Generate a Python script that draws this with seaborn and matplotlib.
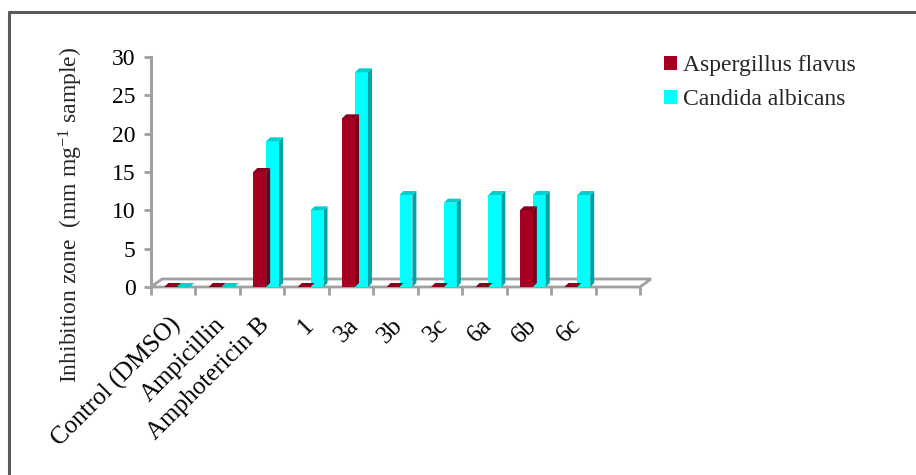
import matplotlib
matplotlib.use("Agg")
import numpy as np
import pandas as pd
import matplotlib.pyplot as plt
import matplotlib.transforms as mtransforms
from matplotlib.patches import Polygon, Patch
from matplotlib.lines import Line2D
import seaborn as sns

# Inhibition zone of the tested compounds against two fungal strains
compounds = ["Control (DMSO)", "Ampicillin", "Amphotericin B", "1", "3a",
             "3b", "3c", "6a", "6b", "6c"]
aspergillus = [0, 0, 15, 0, 22, 0, 0, 0, 10, 0]
candida = [0, 0, 19, 10, 28, 12, 11, 12, 12, 12]
series_names = ["Aspergillus flavus", "Candida albicans"]
yticks = [0, 5, 10, 15, 20, 25, 30]
n_slots = 11  # one trailing empty category slot on the floor

front_colors = {"Aspergillus flavus": "#A50021", "Candida albicans": "#00FFFF"}
top_colors = {"Aspergillus flavus": "#8A001B", "Candida albicans": "#00CFCF"}
side_colors = {"Aspergillus flavus": "#76001A", "Candida albicans": "#00A3A3"}
axis_gray = "#A0A0A0"

df = pd.DataFrame({
    "compound": compounds * 2,
    "organism": [series_names[0]] * len(compounds) + [series_names[1]] * len(compounds),
    "zone": aspergillus + candida,
})

sns.set_theme(style="white")
plt.rcParams["font.family"] = ["Liberation Serif", "DejaVu Serif"]
plt.rcParams["mathtext.fontset"] = "custom"
plt.rcParams["mathtext.rm"] = "Liberation Serif"
plt.rcParams["mathtext.it"] = "Liberation Serif:italic"

W, H = 916, 475
fig = plt.figure(figsize=(W / 100, H / 100), dpi=100)
fig.patch.set_facecolor("white")
ax = fig.add_axes([151 / W, 188 / H, 489 / W, 230 / H])

sns.barplot(data=df, x="compound", y="zone", hue="organism",
            palette=front_colors, width=0.58, saturation=1,
            legend=False, ax=ax, zorder=3)

ax.set_xlim(-0.5, n_slots - 0.5)
ax.set_ylim(0, 30)

# pseudo-3D depth of the bars, in data units
px_x = 489 / n_slots
px_y = 230 / 30
dx = 4 / px_x
dy = 4 / px_y
shift = 4 / px_x

for container, name in zip(ax.containers, series_names):
    for bar in container:
        x0 = bar.get_x() + shift
        bar.set_x(x0)
        bar.set_edgecolor("none")
        w = bar.get_width()
        h = bar.get_height()
        top = Polygon([(x0, h), (x0 + w, h), (x0 + w + dx, h + dy), (x0 + dx, h + dy)],
                      closed=True, facecolor=top_colors[name], edgecolor="none",
                      zorder=3.2, clip_on=False)
        side = Polygon([(x0 + w, 0), (x0 + w, h), (x0 + w + dx, h + dy), (x0 + w + dx, dy)],
                       closed=True, facecolor=side_colors[name], edgecolor="none",
                       zorder=3.1, clip_on=False)
        ax.add_patch(side)
        ax.add_patch(top)

# floor of the chart
fdx = 11 / px_x
fdy = 8 / px_y
floor = Polygon([(-0.5, 0), (n_slots - 0.5, 0), (n_slots - 0.5 + fdx, fdy), (-0.5 + fdx, fdy)],
                closed=True, facecolor="white", edgecolor=axis_gray, linewidth=2.0,
                zorder=1, clip_on=False)
ax.add_patch(floor)

for side_name in ["top", "right", "bottom"]:
    ax.spines[side_name].set_visible(False)
ax.spines["left"].set_color(axis_gray)
ax.spines["left"].set_linewidth(2.2)
ax.grid(False)

ax.set_yticks(yticks)
ax.set_yticklabels([str(v) for v in yticks])
ax.tick_params(axis="y", length=5, width=2, color=axis_gray, pad=6,
               labelsize=17, labelcolor="black", left=True)

ax.set_xticks(np.arange(-0.5, n_slots, 1), minor=True)
ax.set_xticks(range(len(compounds)))
ax.set_xticklabels(compounds)
ax.tick_params(axis="x", which="minor", length=6, width=2, color=axis_gray,
               direction="out", bottom=True)
ax.tick_params(axis="x", which="major", length=0, pad=25, labelsize=18,
               labelcolor="black")
offset = mtransforms.ScaledTranslation(4 / 100, 0, fig.dpi_scale_trans)
for lab in ax.get_xticklabels():
    lab.set_rotation(45)
    lab.set_ha("right")
    lab.set_va("center")
    lab.set_rotation_mode("anchor")
    lab.set_transform(lab.get_transform() + offset)

ax.set_xlabel("")
ax.set_ylabel("")
fig.text(71 / W, 1 - 215 / H, r"Inhibition zone  (mm mg$^{\mathrm{-1}}$ sample)",
         rotation=90, ha="center", va="center", fontsize=17)

handles = [Patch(facecolor=front_colors[n], edgecolor="none") for n in series_names]
fig.legend(handles, series_names, loc="upper left",
           bbox_to_anchor=(664 / W, 1 - 55 / H), frameon=False, fontsize=17,
           handlelength=0.55, handleheight=0.55, handletextpad=0.25,
           labelspacing=0.55, borderpad=0, borderaxespad=0)

# chart area border
frame_kw = dict(transform=fig.transFigure, color="#5A5A5A", linewidth=2.2)
fig.add_artist(Line2D([9 / W, 9 / W], [0, 1 - 12 / H], **frame_kw))
fig.add_artist(Line2D([9 / W, 1], [1 - 12 / H, 1 - 12 / H], **frame_kw))

fig.savefig("out.png", dpi=100)
